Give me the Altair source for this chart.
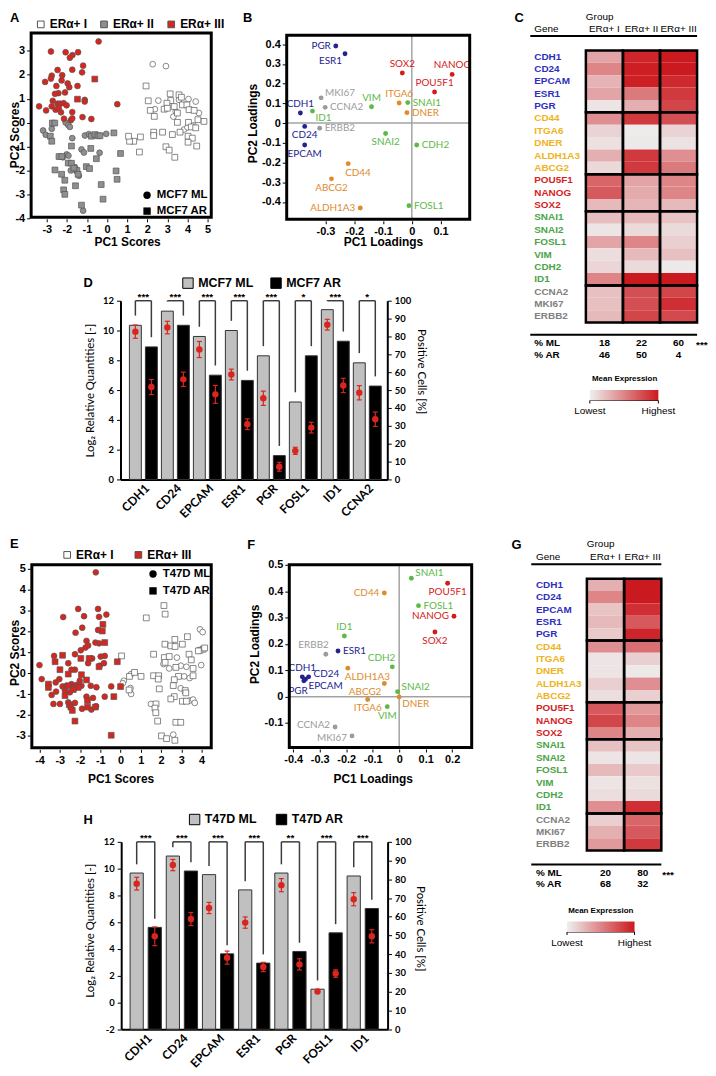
import json
import altair as alt
import pandas as pd

FONT = "Liberation Sans"
FONT2 = "Lato"
RED = "#d8261f"
W, H = 700, 1060          # one shared view; page pixel p -> view pixel p - 8


def vx(p):
    return p - 8


def vy(p):
    return p - 8


# ======================= DATA =======================
GENES = ["CDH1", "CD24", "EPCAM", "ESR1", "PGR", "CD44", "ITGA6", "DNER", "ALDH1A3", "ABCG2",
         "POU5F1", "NANOG", "SOX2", "SNAI1", "SNAI2", "FOSL1", "VIM", "CDH2", "ID1",
         "CCNA2", "MKI67", "ERBB2"]
GENE_CLASS = ["epi", "epi", "epi", "epi", "epi", "stem", "stem", "stem", "stem", "stem",
              "pluri", "pluri", "pluri", "emt", "emt", "emt", "emt", "emt", "emt",
              "prolif", "prolif", "prolif"]
CLASSES = ["epi", "stem", "pluri", "emt", "prolif"]

# ---- Panel A: MCF7 PCA scores (x, y) ----
A_GROUPS = ["ERα+ I", "ERα+ II", "ERα+ III"]
A_LINES = ["MCF7 ML", "MCF7 AR"]
A_I_ML = [(2.27, 2.44), (2.93, 2.36), (2.55, 0.92), (4.05, 0.98), (4.41, 0.88), (3.58, 0.95),
          (2.38, 0.56), (3.42, 0.47), (4.57, 0.40), (3.83, -0.29), (4.00, -0.20), (4.30, -0.12),
          (3.30, 0.25)]
A_I_AR = [(1.94, 1.53), (3.14, 1.20), (3.58, 1.16), (3.70, 1.06), (2.05, 0.91), (3.17, 0.92),
          (2.98, 0.81), (3.34, 0.67), (3.75, 0.74), (3.97, 0.74), (2.15, 0.51), (2.84, 0.56),
          (3.00, 0.60), (2.35, 0.26), (3.50, 0.40), (4.08, 0.54), (4.33, 0.51), (4.82, 0.05),
          (4.52, 0.12), (3.50, 0.01), (4.05, 0.01), (4.19, -0.18), (4.41, -0.22), (3.63, -0.40),
          (3.25, -0.50), (2.76, -0.40), (2.32, -0.40), (2.32, -0.54), (1.66, -0.60), (1.33, -0.78),
          (1.12, -0.78), (1.07, -0.57), (4.03, -0.57), (4.24, -0.65), (4.03, -0.82), (4.46, -0.98),
          (2.93, -1.01), (3.09, -1.15), (1.61, -1.23), (3.37, -1.45)]
A_II_ML = [(-3.18, -0.33), (-3.05, -0.51), (-2.75, -0.26), (-2.06, 0.00), (-1.93, -0.10),
           (-1.85, -0.18), (-1.73, -0.65), (-1.10, -0.54), (-0.90, -0.48), (-0.04, -0.47),
           (-1.27, -1.12), (-1.15, -1.25), (-0.37, -1.26), (-2.01, -1.33), (-1.92, -1.38),
           (-1.60, -1.86), (-1.40, -2.22), (-1.19, -3.68), (-2.20, -1.45), (-1.80, -2.00)]
A_II_AR = [(-2.72, -0.02), (-2.60, -0.02), (-2.82, -0.57), (-2.75, -0.78), (-0.78, -0.57),
           (-0.60, -0.50), (-0.45, -0.55), (-0.35, -0.55), (0.34, -0.43), (-1.77, -0.98),
           (-0.81, -1.08), (-0.53, -1.51), (0.67, -1.29), (-2.39, -1.42), (-2.25, -1.42),
           (-1.93, -1.69), (-1.77, -1.70), (-1.50, -2.00), (-2.59, -1.98), (-2.26, -2.16),
           (-1.44, -2.16), (-1.03, -1.84), (-0.87, -1.92), (0.45, -2.02), (0.50, -2.37),
           (-2.10, -2.41), (-1.57, -2.64), (-0.29, -2.59), (-2.16, -2.81), (-2.10, -3.00),
           (-0.20, -3.20), (-1.27, -3.45), (-1.65, -1.90)]
A_III_ML = [(-0.42, 3.39), (-2.79, 2.97), (-2.06, 2.94), (-1.44, 2.94), (-1.72, 2.82), (-1.85, 2.71),
            (-1.19, 2.38), (-2.46, 2.20), (-1.73, 2.21), (-1.24, 2.10), (-2.75, 1.96), (-2.79, 1.84),
            (-2.23, 1.98), (-2.26, 1.76), (-1.96, 1.64), (-3.08, 1.70), (-2.52, 1.53), (-1.47, 1.53),
            (-1.88, 1.48), (-2.09, 1.26), (-2.42, 1.23), (-2.59, 1.20), (-1.11, 0.95), (-1.11, 0.88),
            (-2.70, 0.91), (-3.03, 0.51), (-3.38, 0.68), (-2.75, 0.68), (-2.46, 0.79), (-2.34, 0.79),
            (-2.16, 0.81), (-2.01, 0.72), (-2.56, 0.54), (-2.29, 0.43), (-1.73, 0.44), (0.51, 0.77),
            (-2.14, 0.16), (-1.80, 0.10), (-1.73, 0.18), (-1.22, 0.23), (-0.78, 0.15), (-2.40, 0.60)]
A_III_AR = [(-0.61, 1.82), (-1.47, 0.98)]

# ---- Panel B: MCF7 PCA loadings (gene order as GENES) ----
B_PC1 = [-0.387, -0.372, -0.372, -0.232, -0.264, -0.221, -0.044, -0.017, -0.179, -0.279,
         0.079, 0.140, -0.033, -0.014, -0.091, -0.010, -0.140, 0.017, -0.345,
         -0.301, -0.315, -0.320]
B_PC2 = [0.051, -0.017, -0.111, 0.352, 0.391, -0.206, 0.102, 0.053, -0.431, -0.283,
         0.158, 0.247, 0.254, 0.104, -0.053, -0.419, 0.083, -0.111, 0.061,
         0.080, 0.128, -0.026]

# ---- Panel C: MCF7 mean expression per group ----
C_COLS = ["ERα+ I", "ERα+ II", "ERα+ III"]
C_I = [0.35, 0.50, 0.28, 0.35, 0.05, 0.45, 0.13, 0.07, 0.30, 0.11, 0.65, 0.70, 0.25,
       0.23, 0.05, 0.35, 0.08, 0.12, 0.50, 0.22, 0.22, 0.25]
C_II = [0.95, 0.98, 0.97, 0.55, 0.30, 0.85, 0.02, 0.03, 0.85, 0.85, 0.35, 0.32, 0.27,
        0.25, 0.10, 0.50, 0.25, 0.10, 1.00, 0.75, 0.75, 0.80]
C_III = [1.00, 1.00, 0.93, 0.85, 0.80, 0.75, 0.13, 0.06, 0.45, 0.55, 0.50, 0.50, 0.25,
         0.20, 0.10, 0.15, 0.22, 0.03, 1.00, 0.80, 0.90, 0.78]
C_PCT_ML = ["18", "22", "60"]
C_PCT_AR = ["46", "50", "4"]

# ---- Panel D: MCF7 qPCR + flow ----
D_GENES = ["CDH1", "CD24", "EPCAM", "ESR1", "PGR", "FOSL1", "ID1", "CCNA2"]
D_ML_Q = [10.35, 11.30, 9.60, 10.00, 8.30, 5.20, 11.40, 7.83]
D_AR_Q = [8.90, 10.35, 7.00, 6.65, 1.60, 8.30, 9.28, 6.27]
D_ML_P = [82.7, 85.0, 72.7, 58.7, 45.4, 16.0, 86.6, 48.5]
D_ML_E = [3.7, 3.5, 4.5, 3.0, 4.0, 2.0, 3.0, 4.0]
D_AR_P = [51.7, 56.0, 47.6, 30.9, 7.1, 29.0, 52.6, 33.7]
D_AR_E = [4.2, 4.0, 5.0, 3.0, 2.5, 3.0, 4.0, 4.0]
D_STARS = ["***", "***", "***", "***", "***", "*", "***", "*"]
D_SERIES = ["MCF7 ML", "MCF7 AR"]

# ---- Panel E: T47D PCA scores ----
E_GROUPS = ["ERα+ I", "ERα+ III"]
E_LINES = ["T47D ML", "T47D AR"]
E_I_ML = [(3.92, 2.10), (4.05, 1.97), (2.78, 0.75), (3.98, 0.39), (2.12, 0.44), (2.40, 0.23),
          (2.97, 0.36), (3.25, 0.31), (0.52, -0.04), (0.16, -0.36), (0.11, -0.48), (3.14, -0.15),
          (2.97, -0.72), (3.41, -1.31), (3.58, -1.26), (3.66, -1.42), (0.49, -0.71), (0.52, -0.99),
          (1.50, -1.47), (2.60, -2.94), (3.41, -0.23)]
E_I_AR = [(2.14, 3.24), (2.20, 2.83), (1.27, 2.65), (3.30, 1.75), (2.68, 1.62), (2.19, 1.39),
          (2.48, 1.31), (2.69, 1.28), (3.05, 1.39), (4.07, 1.15), (3.92, 1.10), (4.15, 1.21),
          (0.05, 0.83), (1.63, 0.91), (2.16, 0.75), (2.40, 0.80), (3.38, 0.91), (3.49, 0.64),
          (2.20, 0.52), (2.73, 0.28), (0.44, -0.15), (0.69, 0.04), (1.01, -0.15), (1.63, -0.12),
          (1.88, -0.12), (1.86, -0.28), (2.86, -0.15), (2.65, -0.31), (2.60, -0.59), (3.58, -0.12),
          (1.91, -0.75), (3.19, -0.83), (3.22, -0.94), (2.65, -1.12), (2.48, -1.23), (3.05, -1.34),
          (3.25, -1.34), (1.75, -1.47), (1.70, -1.67), (1.74, -1.89), (1.83, -2.29), (2.73, -2.35),
          (2.97, -2.35), (2.02, -3.00), (2.27, -3.13), (2.68, -3.21), (0.42, -0.80), (3.58, 0.23),
          (3.84, 1.07)]
E_III_ML = [(-1.22, 4.83), (-2.09, 3.08), (-1.11, 3.08), (-2.83, 2.69), (-1.80, 2.73), (-1.06, 2.70),
            (-0.70, 2.81), (-1.89, 2.18), (-2.22, 1.94), (-1.11, 2.07), (-1.24, 1.47), (-1.68, 1.55),
            (-1.73, 1.23), (-1.60, 1.33), (-1.96, 1.10), (-1.06, 1.43), (-2.25, 0.91), (-3.28, 0.83),
            (-2.58, 0.48), (-2.25, 0.17), (-1.60, 0.48), (-1.40, 0.71), (-0.98, 0.80), (-0.78, 0.83),
            (-1.03, 0.36), (-0.82, 0.48), (-4.00, 0.39), (-3.89, -0.28), (-3.02, -0.28), (-2.42, 0.17),
            (-2.01, -0.36), (-3.20, -0.44), (-2.86, -0.63), (-2.66, -0.60), (-2.42, -0.52),
            (-2.17, -0.56), (-1.93, -0.60), (-2.74, -0.83), (-2.50, -0.91), (-3.40, -1.04),
            (-3.18, -0.88), (-1.47, -0.60), (-1.19, -0.67), (-0.46, -0.63), (-1.68, -1.12),
            (-1.36, -1.18), (-0.78, -1.12), (-2.58, -1.39), (-3.31, -1.47), (-2.99, -1.47),
            (-2.25, -1.42), (-1.90, -1.70), (-1.44, -1.74), (-1.21, -1.58)]
E_III_AR = [(-0.87, 2.34), (-0.90, 2.02), (-0.78, 1.47), (-2.86, 0.86), (-1.55, 0.71), (-1.96, 0.71),
            (-3.23, 0.55), (-0.16, 0.55), (-1.06, 0.31), (-2.99, 0.17), (-2.58, -0.04), (-1.93, -0.07),
            (-1.68, -0.32), (-3.56, -0.52), (-3.56, -0.68), (-2.58, -0.60), (-2.29, -0.68),
            (-2.09, -0.68), (-2.33, -0.78), (-2.74, -1.07), (0.00, -0.64), (-1.63, -1.31),
            (-0.33, -1.12), (-2.53, -1.51), (-2.45, -1.62), (-2.38, -1.78), (-1.63, -1.62),
            (-1.24, -1.62), (-2.25, -2.29), (-0.46, -2.97)]

# ---- Panel F: T47D PCA loadings (gene order as GENES) ----
F_PC1 = [-0.366, -0.342, -0.354, -0.231, -0.360, -0.056, -0.119, 0.000, -0.194, -0.056,
         0.183, 0.207, 0.135, 0.046, -0.006, 0.073, -0.045, -0.026, -0.207,
         -0.242, -0.178, -0.277]
F_PC2 = [0.075, 0.075, 0.066, 0.173, 0.060, 0.393, -0.011, -0.001, 0.108, 0.050,
         0.430, 0.305, 0.245, 0.449, 0.019, 0.345, -0.038, 0.113, 0.230,
         -0.115, -0.149, 0.161]

# ---- Panel G: T47D mean expression per group ----
G_COLS = ["ERα+ I", "ERα+ III"]
G_I = [0.30, 0.50, 0.20, 0.25, 0.18, 0.45, 0.05, 0.05, 0.15, 0.08, 0.70, 0.80, 0.50,
       0.22, 0.05, 0.25, 0.05, 0.08, 0.45, 0.15, 0.30, 0.40]
G_III = [1.00, 1.00, 0.90, 0.70, 0.95, 0.60, 0.15, 0.03, 0.45, 0.15, 0.40, 0.50, 0.30,
         0.20, 0.05, 0.18, 0.07, 0.10, 0.90, 0.65, 0.70, 0.85]
G_PCT_ML = ["20", "80"]
G_PCT_AR = ["68", "32"]

# ---- Panel H: T47D qPCR + flow ----
H_GENES = ["CDH1", "CD24", "EPCAM", "ESR1", "PGR", "FOSL1", "ID1"]
H_ML_Q = [9.67, 10.94, 9.55, 8.41, 9.67, 0.99, 9.45]
H_AR_Q = [5.61, 9.82, 3.63, 2.94, 3.81, 5.20, 7.02]
H_ML_P = [77.7, 87.6, 64.7, 56.9, 76.9, 20.1, 69.4]
H_ML_E = [3.4, 3.0, 3.0, 3.0, 3.5, 1.0, 3.5]
H_AR_P = [49.6, 58.8, 38.2, 33.2, 34.6, 29.7, 49.6]
H_AR_E = [5.0, 3.5, 3.5, 2.5, 3.0, 2.0, 3.5]
H_STARS = ["***", "***", "***", "***", "**", "***", "***"]
H_SERIES = ["T47D ML", "T47D AR"]

# tick values
A_XT = [-3, -2, -1, 0, 1, 2, 3, 4, 5]
A_YT = [-4, -3, -2, -1, 0, 1, 2, 3]
B_XT = [-0.3, -0.2, -0.1, 0, 0.1]
B_YT = [-0.4, -0.3, -0.2, -0.1, 0, 0.1, 0.2, 0.3, 0.4]
E_XT = [-4, -3, -2, -1, 0, 1, 2, 3, 4]
E_YT = [-3, -2, -1, 0, 1, 2, 3, 4, 5]
F_XT = [-0.4, -0.3, -0.2, -0.1, 0, 0.1, 0.2]
F_YT = [-0.1, 0, 0.1, 0.2, 0.3, 0.4, 0.5]
D_YT = [0, 2, 4, 6, 8, 10, 12]
H_YT = [-2, 0, 2, 4, 6, 8, 10, 12]
PCT_T = [0, 10, 20, 30, 40, 50, 60, 70, 80, 90, 100]
GRAD_WORDS = ["Lowest", "Highest"]

# ======================= STYLES =======================
LOAD_COLORS = ["#23238f", "#e08a2c", "#d6191b", "#5cb946", "#9b9b9b"]
HEAT_LABEL_COLORS = ["#2f2fbf", "#efb320", "#d41f1f", "#4aa548", "#808080"]
PLACE = {
    "L": ("right", -5, 0), "LU": ("right", -5, -2), "LD": ("right", -5, 2),
    "LB": ("right", -3, 7), "LB9": ("right", -3, 9), "PB": ("right", 4, 10),
    "T": ("center", 0, -9), "B": ("center", 0, 9),
    "R": ("left", 5, 0), "RU": ("left", 5, -3), "RT": ("left", 4, -5), "RB": ("left", 3, 7),
    "BR": ("left", -3, 9), "TL": ("right", 3, -9),
}
B_PLACE = {"CDH1": "T", "CD24": "B", "EPCAM": "B", "ESR1": "LB", "PGR": "L", "CD44": "BR",
           "ITGA6": "T", "DNER": "R", "ALDH1A3": "L", "ABCG2": "B", "POU5F1": "T", "NANOG": "T",
           "SOX2": "T", "SNAI1": "R", "SNAI2": "B", "FOSL1": "R", "VIM": "T", "CDH2": "R",
           "ID1": "RB", "CCNA2": "R", "MKI67": "RT", "ERBB2": "R"}
F_PLACE = {"CDH1": "T", "CD24": "RU", "EPCAM": "RB", "ESR1": "R", "PGR": "PB", "CD44": "L",
           "ITGA6": "B", "DNER": "RB", "ALDH1A3": "BR", "ABCG2": "LB9", "POU5F1": "B", "NANOG": "L",
           "SOX2": "B", "SNAI1": "RT", "SNAI2": "RT", "FOSL1": "R", "VIM": "B", "CDH2": "TL",
           "ID1": "T", "CCNA2": "LU", "MKI67": "LD", "ERBB2": "TL"}

MINUS_FIX = "replace(datum.label, '\u2212', '-')"


# ======================= HELPERS (page coordinates in) =======================
def txt(s, x, y, size=10, weight="normal", align="left", baseline="middle", font=FONT, color="black"):
    return alt.Chart(pd.DataFrame({"t": [s]})).mark_text(
        align=align, baseline=baseline, font=font, fontSize=size, fontWeight=weight, color=color
    ).encode(text="t:N", x=alt.value(vx(x)), y=alt.value(vy(y)))


def hline(x1, x2, y, w=2.0):
    return alt.Chart(pd.DataFrame({"t": [0]})).mark_rule(color="black", strokeWidth=w).encode(
        x=alt.value(vx(x1)), x2=alt.value(vx(x2)), y=alt.value(vy(y)))


def vline(x, y1, y2, w=1.0):
    return alt.Chart(pd.DataFrame({"t": [0]})).mark_rule(color="black", strokeWidth=w).encode(
        x=alt.value(vx(x)), y=alt.value(vy(y1)), y2=alt.value(vy(y2)))


def box(l, r, t, b):
    return alt.Chart(pd.DataFrame({"t": [0]})).mark_rect(
        fillOpacity=0, stroke="black", strokeWidth=3).encode(
        x=alt.value(vx(l)), x2=alt.value(vx(r)), y=alt.value(vy(t)), y2=alt.value(vy(b)))


def letter(s, x, y):
    return txt(s, max(x, 8), max(y, 8), 13, "bold", baseline="top")


def sc_axis(vals, title, fmt, **kw):
    return alt.Axis(values=vals, title=title, format=fmt, labelExpr=MINUS_FIX, grid=False, domain=False,
                    tickSize=3, tickColor="black", tickWidth=1, labelFont=FONT, labelFontSize=11,
                    labelFontWeight="bold", labelColor="black", labelFlush=False, labelOverlap=False,
                    labelPadding=2, titleFont=FONT, titleFontSize=12, titleFontWeight="bold",
                    titleColor="black", **kw)


def frame_axes(xt, yt, xtitle, ytitle, fmt, fr, xtitle_c, ytitle_c):
    l, r, t, b = fr
    ax_y = b + 1.5
    ax_x = l - 1.5
    xa = sc_axis(xt, xtitle, fmt, orient="bottom", offset=vy(ax_y) - H,
                 titleY=xtitle_c - 6 - ax_y, titleBaseline="top")
    ya = sc_axis(yt, ytitle, fmt, orient="left", offset=-vx(ax_x),
                 titleX=ytitle_c + 6 - ax_x, titleBaseline="bottom")
    return xa, ya


def scatter_panel(sets, groups, fills, lines, xdom, xr, ydom, yr, fr, xt, yt, xtitle_c, ytitle_c,
                  let, lpos, fill_leg, shape_leg):
    recs = []
    for g, ln, pairs in sets:
        for x, y in pairs:
            recs.append({"x": x, "y": y, "group": g, "line": ln})
    df = pd.DataFrame(recs)
    xa, ya = frame_axes(xt, yt, "PC1 Scores", "PC2 Scores", "d", fr, xtitle_c, ytitle_c)
    pts = alt.Chart(df).mark_point(filled=True, size=34, opacity=1, stroke="#555555", strokeWidth=0.7).encode(
        x=alt.X("x:Q", scale=alt.Scale(domain=xdom, range=[vx(xr[0]), vx(xr[1])], nice=False, zero=False),
                axis=xa),
        y=alt.Y("y:Q", scale=alt.Scale(domain=ydom, range=[vy(yr[0]), vy(yr[1])], nice=False, zero=False),
                axis=ya),
        fill=alt.Fill("group:N", scale=alt.Scale(domain=groups, range=fills), legend=alt.Legend(**fill_leg)),
        shape=alt.Shape("line:N", scale=alt.Scale(domain=lines, range=["circle", "square"]),
                        legend=alt.Legend(**shape_leg)),
    )
    return alt.layer(pts, box(*fr), letter(let, *lpos))


def loading_panel(pc1, pc2, place, xdom, xr, ydom, yr, fr, xt, yt, xtitle_c, ytitle_c, let, lpos):
    df = pd.DataFrame({"gene": GENES, "cls": GENE_CLASS, "x": pc1, "y": pc2,
                       "place": [place[g] for g in GENES]})
    l, r, t, b = fr
    xs = alt.Scale(domain=xdom, range=[vx(xr[0]), vx(xr[1])], nice=False, zero=False)
    ys = alt.Scale(domain=ydom, range=[vy(yr[0]), vy(yr[1])], nice=False, zero=False)
    cs = alt.Scale(domain=CLASSES, range=LOAD_COLORS)
    xa, ya = frame_axes(xt, yt, "PC1 Loadings", "PC2 Loadings", ".1~f", fr, xtitle_c, ytitle_c)
    zero = pd.DataFrame({"x": [0.0], "y": [0.0]})
    vz = alt.Chart(zero).mark_rule(color="#a3a3a3", strokeWidth=1.5).encode(
        x=alt.X("x:Q", scale=xs, axis=xa), y=alt.value(vy(t)), y2=alt.value(vy(b)))
    hz = alt.Chart(zero).mark_rule(color="#a3a3a3", strokeWidth=1.5).encode(
        y=alt.Y("y:Q", scale=ys, axis=ya), x=alt.value(vx(l)), x2=alt.value(vx(r)))
    pts = alt.Chart(df).mark_point(filled=True, size=24, opacity=1).encode(
        x=alt.X("x:Q", scale=xs, axis=xa), y=alt.Y("y:Q", scale=ys, axis=ya),
        color=alt.Color("cls:N", scale=cs, legend=None),
    )
    layers = [vz, hz, pts]
    used = set(place.values())
    for name, (align, dx, dy) in PLACE.items():
        if name not in used:
            continue
        layers.append(alt.Chart(df).transform_filter(alt.datum.place == name).mark_text(
            align=align, baseline="middle", dx=dx, dy=dy, font=FONT2, fontSize=10).encode(
            x=alt.X("x:Q", scale=xs, axis=xa), y=alt.Y("y:Q", scale=ys, axis=ya), text="gene:N",
            color=alt.Color("cls:N", scale=cs, legend=None)))
    layers.append(box(*fr))
    layers.append(letter(let, *lpos))
    return alt.layer(*layers)


def heatmap_panel(cols, col_vals, pct_ml, pct_ar, cell_box, let, lpos, gene_x, group_y, hdr_y,
                  hdr_line_y, line_x0, foot_line_y, ml_y, ar_y, star_x, leg_x, leg_y, grad_len, word_y):
    l, r, t, b = cell_box
    n = len(GENES)
    nc = len(cols)
    cells = pd.DataFrame([{"r": rr, "r2": rr + 1, "c": c, "c2": c + 1, "v": col_vals[c][rr]}
                          for c in range(nc) for rr in range(n)])
    xs = alt.Scale(domain=[0, nc], range=[vx(l), vx(r)], nice=False, zero=False)
    ys = alt.Scale(domain=[0, n], range=[vy(t), vy(b)], nice=False, zero=False)
    title_pad = 7
    thick = 10.5
    cell_layer = alt.Chart(cells).mark_rect().encode(
        x=alt.X("c:Q", scale=xs, axis=None), x2="c2:Q",
        y=alt.Y("r:Q", scale=ys, axis=None), y2="r2:Q",
        fill=alt.Fill("v:Q", scale=alt.Scale(domain=[0, 1], range=["#efefef", "#cb1a1f"], interpolate="rgb"),
                      legend=alt.Legend(orient="none", legendX=vx(leg_x), legendY=vy(leg_y),
                                        direction="horizontal",
                                        title="Mean Expression", titleFont=FONT, titleFontSize=8,
                                        titleFontWeight="bold", titleColor="black", titleAnchor="middle",
                                        titlePadding=title_pad, gradientLength=grad_len,
                                        gradientThickness=thick, gradientStrokeWidth=0, values=[0, 1],
                                        labelExpr="''", labelFontSize=6, padding=0)))
    runs = []
    start = 0
    for rr in range(1, n + 1):
        if rr == n or GENE_CLASS[rr] != GENE_CLASS[start]:
            runs.append((start, rr))
            start = rr
    blocks = pd.DataFrame([{"c": c, "c2": c + 1, "r": s, "r2": e} for c in range(nc) for s, e in runs])
    block_layer = alt.Chart(blocks).mark_rect(fillOpacity=0, stroke="black", strokeWidth=2.5).encode(
        x=alt.X("c:Q", scale=xs, axis=None), x2="c2:Q", y=alt.Y("r:Q", scale=ys, axis=None), y2="r2:Q")
    lab = pd.DataFrame({"gene": GENES, "cls": GENE_CLASS, "rm": [rr + 0.5 for rr in range(n)]})
    label_layer = alt.Chart(lab).mark_text(align="left", baseline="middle", font=FONT, fontSize=10,
                                           fontWeight="bold").encode(
        x=alt.value(vx(gene_x)), y=alt.Y("rm:Q", scale=ys, axis=None), text="gene:N",
        color=alt.Color("cls:N", scale=alt.Scale(domain=CLASSES, range=HEAT_LABEL_COLORS), legend=None))
    hdr = pd.DataFrame({"name": cols, "cm": [c + 0.5 for c in range(nc)], "ml": pct_ml, "ar": pct_ar})
    hdr_layer = alt.Chart(hdr).mark_text(font=FONT, fontSize=10, baseline="middle").encode(
        x=alt.X("cm:Q", scale=xs, axis=None), y=alt.value(vy(hdr_y)), text="name:N")
    ml_layer = alt.Chart(hdr).mark_text(font=FONT, fontSize=10, fontWeight="bold", baseline="middle").encode(
        x=alt.X("cm:Q", scale=xs, axis=None), y=alt.value(vy(ml_y)), text="ml:N")
    ar_layer = alt.Chart(hdr).mark_text(font=FONT, fontSize=10, fontWeight="bold", baseline="middle").encode(
        x=alt.X("cm:Q", scale=xs, axis=None), y=alt.value(vy(ar_y)), text="ar:N")
    grad_bottom = leg_y + 8 + title_pad + thick
    layers = [cell_layer, block_layer, label_layer, hdr_layer, ml_layer, ar_layer,
              txt("Gene", gene_x, hdr_y), txt("Group", l, group_y),
              hline(line_x0, r, hdr_line_y), hline(line_x0, r, foot_line_y),
              txt("% ML", gene_x, ml_y, weight="bold"), txt("% AR", gene_x, ar_y, weight="bold"),
              txt("***", star_x, ml_y + 2, 10, "bold"),
              hline(leg_x, leg_x + grad_len, grad_bottom, 1.2),
              vline(leg_x, grad_bottom, grad_bottom + 3), vline(leg_x + grad_len, grad_bottom, grad_bottom + 3),
              txt(GRAD_WORDS[0], leg_x, word_y, 10, align="center"),
              txt(GRAD_WORDS[1], leg_x + grad_len, word_y, 10, align="center"),
              letter(let, *lpos)]
    return alt.layer(*layers)


def bar_panel(genes, ml_q, ar_q, ml_p, ml_e, ar_p, ar_e, stars, series, xdom, plot, ydom, yt, bw,
              let, lpos, leg, ltitle_c, rtitle_c):
    l, r, t, b = plot
    n = len(genes)
    idx = list(range(n))
    df = pd.DataFrame({"gene": genes + genes, "series": [series[0]] * n + [series[1]] * n,
                       "i": idx + idx, "q": ml_q + ar_q, "p": ml_p + ar_p, "e": ml_e + ar_e})
    df["pos"] = df["i"] + df["series"].map({series[0]: -0.25, series[1]: 0.25})
    df["lo"] = df["p"] - df["e"]
    df["hi"] = df["p"] + df["e"]
    df["leg_end"] = df["q"] + 0.65
    df["top"] = ydom[1]
    pairs = pd.DataFrame({"i": idx, "l": [i - 0.25 for i in idx], "r": [i + 0.25 for i in idx],
                          "top": [ydom[1]] * n, "stars": stars})
    xs = alt.Scale(domain=xdom, range=[vx(l), vx(r)], nice=False, zero=False)
    ys = alt.Scale(domain=ydom, range=[vy(b), vy(t)], nice=False, zero=False)
    ps = alt.Scale(domain=[0, 100], range=[vy(b), vy(t)], nice=False, zero=False)
    xaxis = alt.Axis(orient="bottom", offset=vy(b) - H, values=idx,
                     labelExpr=f"{json.dumps(genes)}[datum.value]", labelAngle=-45,
                     labelAlign="right", labelBaseline="top", labelFont=FONT2, labelFontSize=12,
                     labelFontWeight="bold", labelColor="black", labelPadding=3, ticks=False,
                     domainColor="black", domainWidth=2, grid=False, title=None, labelFlush=False,
                     labelOverlap=False)
    yaxis = alt.Axis(orient="left", offset=-vx(l), values=yt, tickSize=4, tickColor="black",
                     labelPadding=3, labelFont=FONT2,
                     labelFontSize=9.5, labelFontWeight="bold", labelColor="black", domainColor="black",
                     domainWidth=2, grid=False, labelFlush=False, labelOverlap=False,
                     title="Log₂ Relative Quantities [-]", titleFont=FONT2, titleFontSize=11.5,
                     titleFontWeight="normal", titleColor="black", titleX=ltitle_c[0] + 6 - l,
                     titleY=vy(ltitle_c[1]), titleBaseline="bottom", labelExpr=MINUS_FIX)
    raxis = alt.Axis(orient="right", offset=vx(r) - W, values=PCT_T, tickSize=4, tickColor="black",
                     labelPadding=3, labelFont=FONT2, labelFontSize=9.5, labelFontWeight="bold",
                     labelColor="black", domainColor="black", domainWidth=2, grid=False, labelFlush=False,
                     labelOverlap=False, title="Positive Cells [%]", titleFont=FONT2, titleFontSize=11.5,
                     titleFontWeight="normal", titleColor="black", titleX=rtitle_c[0] - 6 - r,
                     titleY=vy(rtitle_c[1]), titleBaseline="bottom")

    def X(f):
        return alt.X(f, scale=xs, axis=xaxis)

    def YL(f):
        return alt.Y(f, scale=ys, axis=yaxis)

    def YR(f):
        return alt.Y(f, scale=ps, axis=raxis)

    bars = alt.Chart(df).mark_bar(size=bw, orient="vertical", stroke="#333333", strokeWidth=1).encode(
        x=X("pos:Q"), y=YL("q:Q"), y2=alt.datum(ydom[0]),
        fill=alt.Fill("series:N", scale=alt.Scale(domain=series, range=["#c0c0c0", "#000000"]),
                      legend=alt.Legend(**leg)))
    legs = alt.Chart(df).mark_rule(color="#3c3c3c", strokeWidth=1.5).encode(
        x=X("pos:Q"), y=YL("top:Q"), y2="leg_end:Q")
    topbar = alt.Chart(pairs).mark_rule(color="#3c3c3c", strokeWidth=1.5).encode(
        x=X("l:Q"), x2="r:Q", y=YL("top:Q"))
    star_l = alt.Chart(pairs).mark_text(baseline="alphabetic", dy=-1, font=FONT, fontSize=10,
                                        fontWeight="bold").encode(
        x=X("i:Q"), y=YL("top:Q"), text="stars:N")
    err = alt.Chart(df).mark_rule(color=RED, strokeWidth=1.2).encode(
        x=X("pos:Q"), y=YR("lo:Q"), y2="hi:Q")
    cap_lo = alt.Chart(df).mark_tick(orient="horizontal", size=5, thickness=1.2, color=RED, opacity=1).encode(
        x=X("pos:Q"), y=YR("lo:Q"))
    cap_hi = alt.Chart(df).mark_tick(orient="horizontal", size=5, thickness=1.2, color=RED, opacity=1).encode(
        x=X("pos:Q"), y=YR("hi:Q"))
    pts = alt.Chart(df).mark_point(filled=True, size=42, color=RED, opacity=1).encode(
        x=X("pos:Q"), y=YR("p:Q"))
    left = alt.layer(bars, legs, topbar, star_l)
    right = alt.layer(err, cap_lo, cap_hi, pts)
    return alt.layer(left, right, letter(let, *lpos)).resolve_scale(y="independent")


def fill_legend(x, y, pad):
    return dict(orient="none", legendX=vx(x), legendY=vy(y), direction="horizontal", title=None,
                symbolType="square", symbolSize=45, symbolStrokeColor="#555555", symbolStrokeWidth=1,
                labelFont=FONT, labelFontSize=12, labelFontWeight="bold", labelColor="black",
                labelOffset=3, columnPadding=pad, padding=0)


def shape_legend(x, y, rp):
    return dict(orient="none", legendX=vx(x), legendY=vy(y), direction="vertical", title=None,
                symbolSize=55, symbolFillColor="black", symbolStrokeColor="black", symbolStrokeWidth=0,
                labelFont=FONT, labelFontSize=11.5, labelFontWeight="bold", labelColor="black",
                labelOffset=4, rowPadding=rp, padding=0)


def bar_legend(x, y, pad):
    return dict(orient="none", legendX=vx(x), legendY=vy(y), direction="horizontal", title=None,
                symbolType="square", symbolSize=110, symbolStrokeColor="black", symbolStrokeWidth=1,
                labelFont=FONT, labelFontSize=12.5, labelFontWeight="bold", labelColor="black",
                labelOffset=4, columnPadding=pad, padding=0)


WHITE, GRAY = "#ffffff", "#8f8f8f"

panel_a = scatter_panel(
    [("ERα+ I", "MCF7 ML", A_I_ML), ("ERα+ I", "MCF7 AR", A_I_AR),
     ("ERα+ II", "MCF7 ML", A_II_ML), ("ERα+ II", "MCF7 AR", A_II_AR),
     ("ERα+ III", "MCF7 ML", A_III_ML), ("ERα+ III", "MCF7 AR", A_III_AR)],
    A_GROUPS, [WHITE, GRAY, RED], A_LINES,
    [-3, 5], [45, 207], [-4, 3], [216, 47.3], (29.3, 210.7, 29.3, 215), A_XT, A_YT,
    240.7, 14, "A", (3, 3), fill_legend(33, 14.7, 10.7), shape_legend(140.3, 187, 3))

panel_b = loading_panel(B_PC1, B_PC2, B_PLACE, [-0.3, 0.1], [325.7, 441.7], [-0.4, 0.4], [199.5, 40.7],
                        (286.7, 471, 31.7, 217), B_XT, B_YT, 240.7, 253.3, "B", (242.7, 3))

panel_c = heatmap_panel(C_COLS, [C_I, C_II, C_III], C_PCT_ML, C_PCT_AR, (588, 700, 47, 321), "C",
                        (516, 3), 536, 13, 25, 32.3, 532, 333.3, 341.7, 353.3, 699, 592, 374, 69, 410)

panel_d = bar_panel(D_GENES, D_ML_Q, D_AR_Q, D_ML_P, D_ML_E, D_AR_P, D_AR_E, D_STARS, D_SERIES,
                    [-0.56, 7.47], (119.3, 388, 299, 479), [0, 12], D_YT, 12, "D", (82, 275),
                    bar_legend(181, 274.8, 14.7), (88, 389), (422.7, 370))

panel_e = scatter_panel(
    [("ERα+ I", "T47D ML", E_I_ML), ("ERα+ I", "T47D AR", E_I_AR),
     ("ERα+ III", "T47D ML", E_III_ML), ("ERα+ III", "T47D AR", E_III_AR)],
    E_GROUPS, [WHITE, RED], E_LINES,
    [-4, 4], [37.7, 201], [-3, 5], [737.3, 569], (30, 210.7, 565, 749.3), E_XT, E_YT,
    781.7, 14, "E", (3, 538), fill_legend(59.6, 549, 18.7), shape_legend(146.3, 568.5, 4))

panel_f = loading_panel(F_PC1, F_PC2, F_PLACE, [-0.4, 0.2], [293.3, 453.3], [-0.1, 0.5], [724.3, 565],
                        (289.3, 473, 565, 749), F_XT, F_YT, 781.7, 255, "F", (247, 539))

panel_g = heatmap_panel(G_COLS, [G_I, G_III], G_PCT_ML, G_PCT_AR, (589, 664, 579, 852.7), "G",
                        (513, 539), 537.7, 544.3, 557.3, 564.3, 533, 866.7, 875, 886.7, 665,
                        569, 909.3, 68, 946)

panel_h = bar_panel(H_GENES, H_ML_Q, H_AR_Q, H_ML_P, H_ML_E, H_AR_P, H_AR_E, H_STARS, H_SERIES,
                    [-0.541, 6.549], (120, 388.3, 844, 1032.7), [-2, 12], H_YT, 13.3, "H", (82, 815.7),
                    bar_legend(187.7, 815, 17.5), (88.3, 933), (421.7, 931))

chart = alt.layer(panel_a, panel_b, panel_c, panel_d, panel_e, panel_f, panel_g, panel_h).resolve_scale(
    x="independent", y="independent", fill="independent", color="independent", shape="independent"
).properties(width=W, height=H, padding=0).configure(font=FONT).configure_view(stroke="transparent")

chart.save("out.html", embed_options={"renderer": "svg", "actions": False})
